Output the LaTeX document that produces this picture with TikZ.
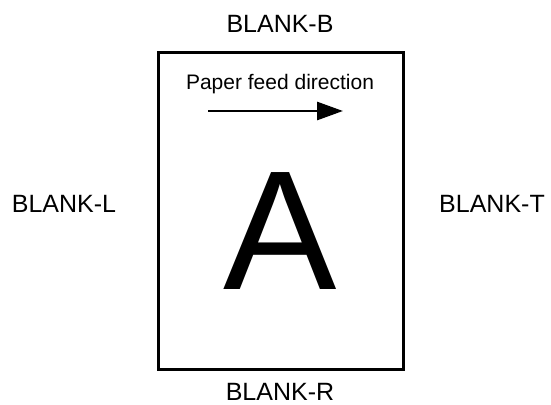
\documentclass[tikz,border=0pt]{standalone}
\usepackage{fontspec}
\setmainfont{Liberation Sans}
\usetikzlibrary{arrows.meta}
\begin{document}
\begin{tikzpicture}[x=1pt,y=1pt,
  lbl/.style={anchor=base,inner sep=0pt,font=\fontsize{25}{25}\selectfont},
  paper/.style={draw,line width=3pt}]
\useasboundingbox (0,0) rectangle (551,404);
\draw[paper] (158.5,34.5) rectangle (403.5,351.5);
\node[lbl] (bb) at (280,371) {BLANK-B};
\node[lbl] (br) at (280,4) {BLANK-R};
\node[lbl] (bl) at (64,191) {BLANK-L};
\node[lbl] (bt) at (492,191) {BLANK-T};
\node[anchor=base,inner sep=0pt,font=\fontsize{21}{21}\selectfont] (pf) at (280,314) {Paper feed direction};
\node[anchor=base,inner sep=0pt,font=\fontsize{170}{170}\selectfont] (A) at (280,114) {A};
\coordinate (as) at (208,293);
\coordinate (ae) at (343,293);
\draw[line width=2.8pt,-{Triangle[length=26pt,width=18pt]}] (as) -- (ae);
\end{tikzpicture}
\end{document}
